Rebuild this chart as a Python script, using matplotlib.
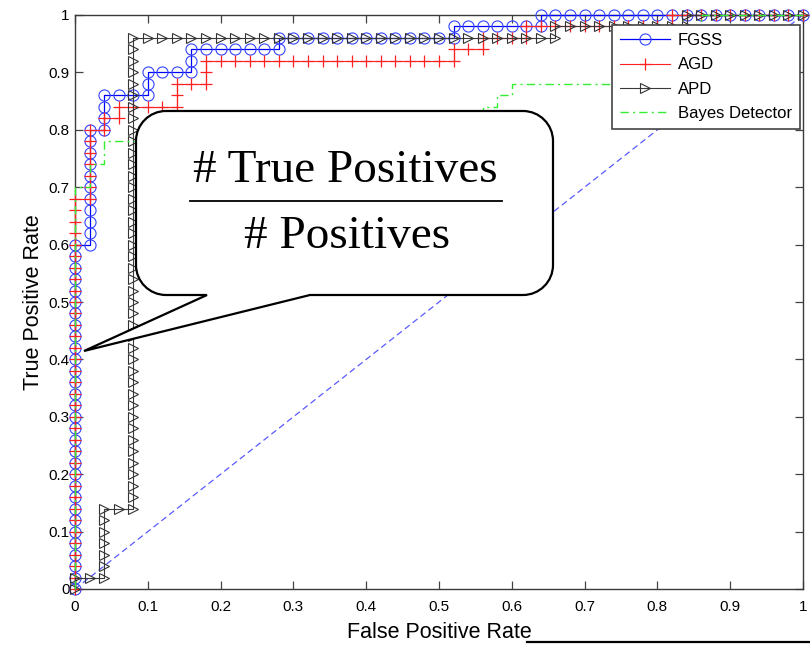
import numpy as np
import matplotlib
matplotlib.use("Agg")
import matplotlib.pyplot as plt
from matplotlib.path import Path
from matplotlib.patches import PathPatch
from matplotlib.transforms import Affine2D
from matplotlib.lines import Line2D

# Ranked detections as runs of (label, count): 1 = true positive, 0 = false positive
n_pos = 50
n_neg = 50
fgss_runs = [(1, 30), (0, 1), (1, 10), (0, 1), (1, 3), (0, 3), (1, 2), (0, 3),
             (1, 2), (0, 6), (1, 1), (0, 12), (1, 1), (0, 6), (1, 1), (0, 18)]
agd_runs = [(1, 34), (0, 1), (1, 6), (0, 1), (1, 1), (0, 1), (1, 1), (0, 4),
            (1, 2), (0, 2), (1, 2), (0, 17), (1, 1), (0, 2), (1, 1), (0, 3),
            (1, 1), (0, 10), (1, 1), (0, 9)]
apd_runs = [(1, 1), (0, 2), (1, 6), (0, 2), (1, 41), (0, 29), (1, 1), (0, 9),
            (1, 1), (0, 8)]
bayes_runs = [(1, 35), (0, 1), (1, 2), (0, 1), (1, 2), (0, 13), (1, 1), (0, 7),
              (1, 1), (0, 6), (1, 1), (0, 1), (1, 1), (0, 1), (1, 1), (0, 13),
              (1, 6), (0, 7)]

series_names = ["FGSS", "AGD", "APD", "Bayes Detector"]
tick_values = [0, 0.1, 0.2, 0.3, 0.4, 0.5, 0.6, 0.7, 0.8, 0.9, 1]
tick_labels = ["0", "0.1", "0.2", "0.3", "0.4", "0.5", "0.6", "0.7", "0.8", "0.9", "1"]


def roc_from_runs(runs):
    labels = np.concatenate([np.full(n, lab) for lab, n in runs])
    tpr = np.concatenate([[0.0], np.cumsum(labels == 1) / n_pos])
    fpr = np.concatenate([[0.0], np.cumsum(labels == 0) / n_neg])
    return fpr, tpr


W, H = 810, 645
plt.rcParams["font.family"] = ["Liberation Sans", "DejaVu Sans"]
fig = plt.figure(figsize=(W / 100, H / 100), dpi=100)
ax = fig.add_axes([75 / W, 1 - 589 / H, 728 / W, 574 / H])

# pixel-space transform (origin top-left) for the annotation callout
px = Affine2D().scale(1 / W, -1 / H).translate(0, 1) + fig.transFigure

styles = [
    dict(color="#0000ff", marker="o", ms=8, mfc="none", mec="#3344ff", mew=0.8, lw=0.9),
    dict(color="#ff2020", marker="+", ms=8, mec="#ff2020", mew=0.9, lw=0.8),
    dict(color="#3a3a3a", marker=">", ms=7, mfc="none", mec="#333333", mew=0.8, lw=0.8),
    dict(color="#33ee33", ls=(0, (6, 3, 1.5, 3)), lw=1.0),
]
handles = []
for runs, name, st in zip([fgss_runs, agd_runs, apd_runs, bayes_runs], series_names, styles):
    fpr, tpr = roc_from_runs(runs)
    ln, = ax.plot(fpr, tpr, label=name, clip_on=False, zorder=3, **st)
    handles.append(ln)

# chance line
ax.plot([0, 1], [0, 1], ls=(0, (5, 3)), color="#5a5aff", lw=0.9, zorder=2)

ax.set_xlim(0, 1)
ax.set_ylim(0, 1)
ax.set_xticks(tick_values)
ax.set_xticklabels(tick_labels)
ax.set_yticks(tick_values)
ax.set_yticklabels(tick_labels)
ax.tick_params(direction="in", length=6, width=0.9, color="#444444",
               top=True, right=True, labelsize=11)
ax.tick_params(axis="x", pad=8)
ax.tick_params(axis="y", pad=4)
for sp in ax.spines.values():
    sp.set_color("#3a3a3a")
    sp.set_linewidth(1.0)
ax.set_xlabel("False Positive Rate", fontsize=15.5, labelpad=6)
ax.set_ylabel("True Positive Rate", fontsize=15.5, labelpad=3)

leg = ax.legend(handles=handles, loc="upper left",
                bbox_to_anchor=((612 - 75) / 728, (589 - 25) / 574),
                borderaxespad=0, fontsize=12, numpoints=1, handlelength=3.0,
                handletextpad=0.45, labelspacing=0.55, borderpad=0.5,
                fancybox=False, framealpha=1, edgecolor="#444444")
leg.get_frame().set_linewidth(1.2)
leg.set_zorder(10)

# speech-bubble callout with the TPR definition
L, R, T, B, r = 136, 553, 111, 295, 30
k = 0.5523 * r
tail_a, tail_b, tip = 207, 310, (84, 351)
verts = [
    (L + r, T), (R - r, T),
    (R - r + k, T), (R, T + r - k), (R, T + r),
    (R, B - r),
    (R, B - r + k), (R - r + k, B), (R - r, B),
    (tail_b, B), tip, (tail_a, B), (L + r, B),
    (L + r - k, B), (L, B - r + k), (L, B - r),
    (L, T + r),
    (L, T + r - k), (L + r - k, T), (L + r, T),
    (L + r, T),
]
codes = ([Path.MOVETO, Path.LINETO]
         + [Path.CURVE4] * 3
         + [Path.LINETO]
         + [Path.CURVE4] * 3
         + [Path.LINETO] * 4
         + [Path.CURVE4] * 3
         + [Path.LINETO]
         + [Path.CURVE4] * 3
         + [Path.CLOSEPOLY])
bubble = PathPatch(Path(verts, codes), transform=px, facecolor="white",
                   edgecolor="black", lw=1.6, zorder=20)
fig.add_artist(bubble)

serif = ["Liberation Serif", "DejaVu Serif"]
fig.text(345, 182, "# True Positives", transform=px, ha="center", va="baseline",
         fontsize=34, family=serif, zorder=21)
fig.text(347, 248, "# Positives", transform=px, ha="center", va="baseline",
         fontsize=34, family=serif, zorder=21)
fig.add_artist(Line2D([190, 502], [201, 201], transform=px, color="black",
                      lw=1.3, zorder=21))

# rule along the lower edge
fig.add_artist(Line2D([527, 810], [642, 642], transform=px, color="black",
                      lw=1.6, zorder=21))

fig.savefig("out.png", dpi=100)
